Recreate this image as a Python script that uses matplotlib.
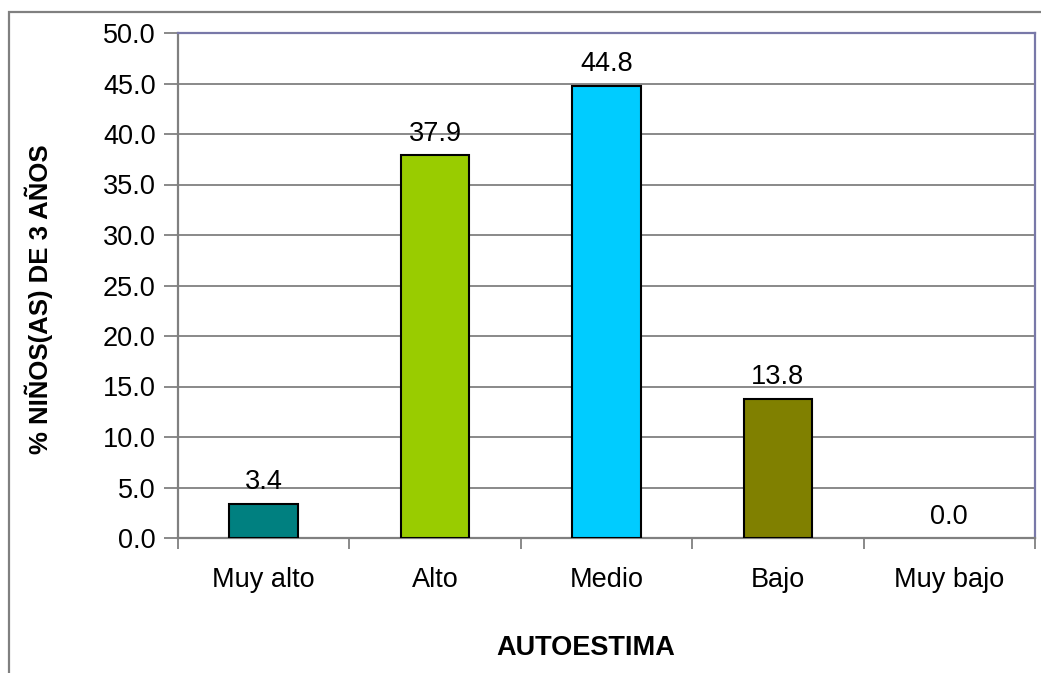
import matplotlib
matplotlib.use("Agg")
import matplotlib.pyplot as plt
from matplotlib.patches import Rectangle

categories = ["Muy alto", "Alto", "Medio", "Bajo", "Muy bajo"]
values = [3.4, 37.9, 44.8, 13.8, 0.0]
colors = ["#008080", "#99CC00", "#00CCFF", "#808000", "#808080"]
yticks = [0, 5, 10, 15, 20, 25, 30, 35, 40, 45, 50]
xlabel = "AUTOESTIMA"
ylabel = "% NIÑOS(AS) DE 3 AÑOS"

plt.rcParams['font.family'] = ['Liberation Sans', 'DejaVu Sans']

W, H = 1041, 673
FS = 19.5
fig = plt.figure(figsize=(W / 100, H / 100), dpi=100)
fig.patch.set_facecolor("white")

# outer chart frame
fig.patches.append(Rectangle((9 / W, -0.05), 1.2, 1 - 12 / H + 0.05,
                             transform=fig.transFigure, fill=False,
                             edgecolor="#808080", linewidth=1.6))

ax = fig.add_axes([178 / W, 1 - 538 / H, (1035 - 178) / W, (538 - 33) / H])
x = list(range(len(categories)))
lws = [1.5 if v > 0 else 0 for v in values]
ax.bar(x, values, width=0.4, color=colors, edgecolor="black", linewidth=lws, zorder=3)

for xi, v in zip(x, values):
    ax.text(xi, v + 2.1, f"{v:.1f}", ha="center", va="center", fontsize=FS, zorder=4)

ax.set_xlim(-0.5, len(categories) - 0.5)
ax.set_ylim(0, 50)
ax.set_yticks(yticks)
ax.set_yticklabels([f"{t:.1f}" for t in yticks], fontsize=FS)
ax.yaxis.grid(True, color="#808080", linewidth=1.3, zorder=0)
ax.set_axisbelow(True)

ax.set_xticks(x)
ax.set_xticklabels(categories, fontsize=FS)
ax.set_xticks([i - 0.5 for i in range(len(categories) + 1)], minor=True)
ax.tick_params(axis="x", which="major", length=0, pad=21)
ax.tick_params(axis="x", which="minor", length=8, width=1.3, color="#808080", direction="out")
ax.tick_params(axis="y", length=10, width=1.3, color="#808080", direction="out", pad=6)

for s in ["left", "bottom"]:
    ax.spines[s].set_color("#808080")
    ax.spines[s].set_linewidth(1.6)
for s in ["top", "right"]:
    ax.spines[s].set_color("#7878A8")
    ax.spines[s].set_linewidth(1.6)

fig.text(586 / W, 1 - 648 / H, xlabel, ha="center", va="center",
         fontsize=FS, fontweight="bold")
fig.text(39 / W, 1 - 299 / H, ylabel, ha="center", va="center",
         rotation=90, fontsize=18.5, fontweight="bold")

fig.savefig("out.png", dpi=100)
